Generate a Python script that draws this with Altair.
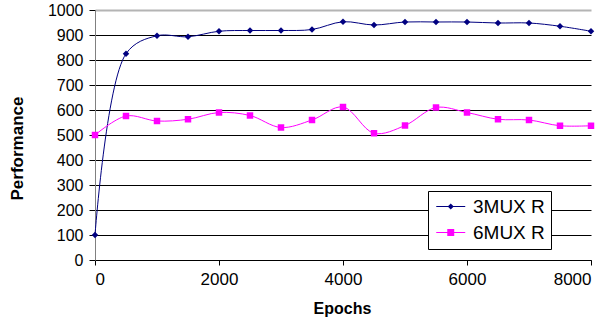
import altair as alt
import pandas as pd

epochs = [0, 500, 1000, 1500, 2000, 2500, 3000, 3500, 4000, 4500, 5000, 5500, 6000, 6500, 7000, 7500, 8000]
mux3 = [100, 825, 897, 893, 915, 918, 918, 922, 953, 940, 952, 952, 952, 948, 948, 935, 915]
mux6 = [500, 576, 556, 563, 590, 578, 530, 560, 612, 507, 538, 610, 590, 563, 560, 537, 537]
series = ["3MUX R", "6MUX R"]
colors = ["#000080", "#FF00FF"]
x_ticks = [0, 2000, 4000, 6000, 8000]
y_ticks = [0, 100, 200, 300, 400, 500, 600, 700, 800, 900, 1000]

rows = []
for e, v in zip(epochs, mux3):
    rows.append({"Epochs": e, "Performance": v, "Series": series[0]})
for e, v in zip(epochs, mux6):
    rows.append({"Epochs": e, "Performance": v, "Series": series[1]})
df = pd.DataFrame(rows)

FONT = "Liberation Sans"

x_enc = alt.X(
    "Epochs:Q",
    scale=alt.Scale(domain=[0, 8000], nice=False, zero=False),
    axis=alt.Axis(
        values=x_ticks, grid=False, title="Epochs", format="d",
        domainColor="black", tickColor="black", tickSize=5,
        labelFontSize=17, labelPadding=6, labelColor="black", labelFont=FONT,
        titleFontSize=16, titleFont=FONT, titleFontWeight="bold", titleColor="black",
        titleX=247, titleY=48, titleBaseline="middle",
    ),
)
y_enc = alt.Y(
    "Performance:Q",
    scale=alt.Scale(domain=[0, 1000], nice=False),
    axis=alt.Axis(
        values=y_ticks, grid=True, title="Performance", format="d",
        gridColor={"condition": {"test": "datum.value === 1000", "value": "#b4b4b4"}, "value": "black"},
        gridWidth={"condition": {"test": "datum.value === 1000", "value": 2}, "value": 1},
        domainColor="#808080", tickColor="black", tickSize=6,
        labelFontSize=16, labelPadding=6, labelColor="black", labelFont=FONT,
        titleFontSize=17, titleFont=FONT, titleFontWeight="bold", titleColor="black",
        titleX=-78, titleY=138, titleAngle=270, titleBaseline="middle", titleAlign="center",
    ),
)

base = alt.Chart(df)

lines = base.mark_line(interpolate="catmull-rom", strokeWidth=1).encode(
    x=x_enc, y=y_enc,
    color=alt.Color("Series:N", scale=alt.Scale(domain=series, range=colors), legend=None),
    detail="Series:N",
)

points = base.mark_point(filled=True, opacity=1, size=42).encode(
    x=x_enc, y=y_enc,
    color=alt.Color("Series:N", scale=alt.Scale(domain=series, range=colors), legend=None),
    shape=alt.Shape("Series:N", scale=alt.Scale(domain=series, range=["diamond", "square"]), legend=None),
)

legend_paths = [
    "M-1,-0.07H3V0.07H-1Z M1,-0.42L1.42,0L1,0.42L0.58,0Z",
    "M-1,-0.07H3V0.07H-1Z M0.52,-0.48H1.48V0.48H0.52Z",
]

legend_layer = base.mark_point(filled=True, opacity=1, size=210).encode(
    x=x_enc, y=y_enc,
    color=alt.Color("Series:N", scale=alt.Scale(domain=series, range=colors), legend=alt.Legend(title=None)),
    shape=alt.Shape("Series:N", scale=alt.Scale(domain=series, range=legend_paths), legend=alt.Legend(title=None)),
).transform_filter("false")

chart = alt.layer(lines, points, legend_layer).resolve_scale(
    color="independent", shape="independent"
).properties(
    width=496, height=250,
    autosize=alt.AutoSizeParams(type="none"),
    padding={"left": 95, "top": 10, "right": 19, "bottom": 60},
    background="white",
).configure_view(stroke=None).configure_legend(
    orient="none", legendX=333, legendY=181,
    strokeColor="black", fillColor="white", padding=6, cornerRadius=0,
    labelFontSize=19, labelFont=FONT, labelColor="black", labelOffset=20,
    rowPadding=6, symbolSize=210, symbolStrokeWidth=0, symbolOpacity=1,
)

chart.save("out.html", embed_options={"renderer": "svg", "actions": False})
